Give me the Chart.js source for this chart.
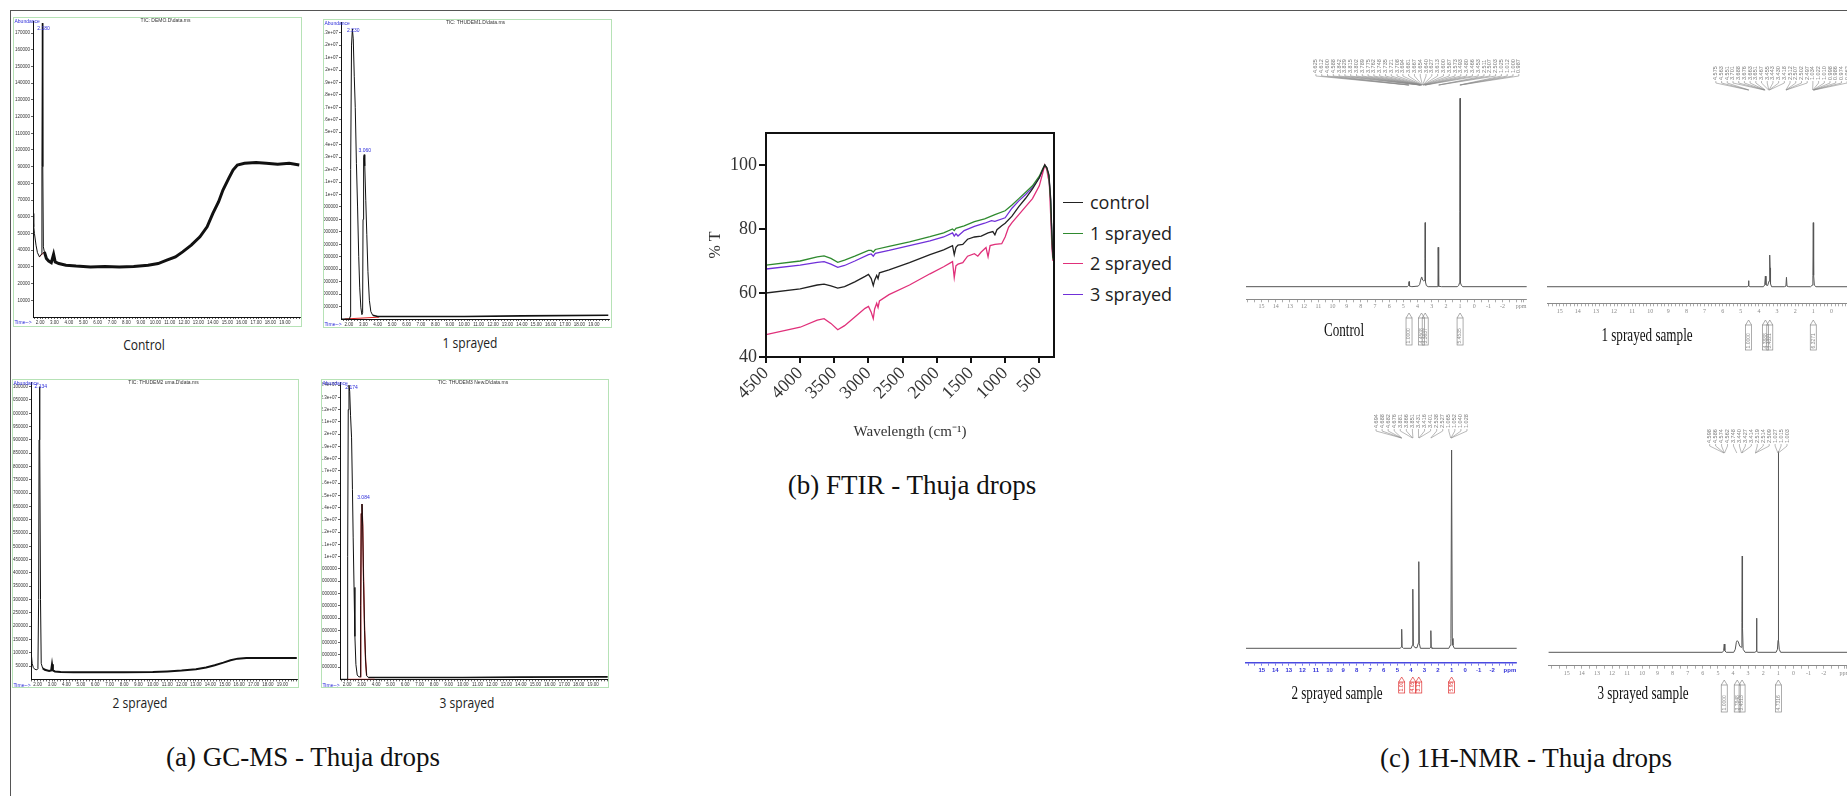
<!DOCTYPE html>
<html><head><meta charset="utf-8">
<script src="https://cdn.jsdelivr.net/npm/chart.js@4.4.1/dist/chart.umd.min.js"></script>
<style>
html,body{margin:0;padding:0;background:#fff;}
body{width:1847px;height:796px;overflow:hidden;position:relative;}
.frame{position:absolute;left:10px;top:10px;width:1900px;height:900px;border-top:1.5px solid #555;border-left:1.5px solid #555;box-sizing:border-box}
.lbl{position:absolute;white-space:nowrap;transform:translate(-50%,-50%);line-height:1}
.ser{font-family:"Liberation Serif","Times New Roman",serif;color:#111}
.sans{font-family:"Open Sans","Noto Sans",sans-serif;color:#222}
.leg{position:absolute;height:20px;display:flex;align-items:center;font-family:"Open Sans","Noto Sans",sans-serif;font-size:18px;color:#222;white-space:nowrap}
.leg i{display:inline-block;width:20px;height:0;border-top:1.5px solid;margin-right:7px}
</style></head><body>
<div class="frame"></div>
<script>
// ================= GC-MS data =================
const gcTimeTicks = [2,3,4,5,6,7,8,9,10,11,12,13,14,15,16,17,18,19];

const gcControlTime  = [1.51,1.56,1.61,1.72,1.82,1.96,2.08,2.13,2.16,2.19,2.23,2.30,2.44,2.60,2.78,2.94,3.05,3.30,3.80,4.50,5.50,6.50,7.50,8.50,9.50,10.2,10.8,11.4,11.9,12.5,13.1,13.6,14.0,14.4,14.7,15.1,15.4,15.7,16.2,17.0,17.7,18.5,19.3,20.0];
const gcControlAbund = [62000,54000,50000,43000,38500,36000,37500,90000,176000,90000,42000,39000,35000,33500,32500,37500,33000,32000,31000,30500,30000,30200,30000,30300,31000,32000,34000,36000,39000,43000,48000,54000,62000,69000,76000,83000,88000,91000,92000,92500,92000,91500,92000,91000];
const gcControlRedTime  = [1.95,2.30];
const gcControlRedAbund = [36000,39000];
const gcControlYTicks = [10000,20000,30000,40000,50000,60000,70000,80000,90000,100000,110000,120000,130000,140000,150000,160000,170000];

const gc1Time  = [1.45,2.05,2.08,2.12,2.18,2.24,2.30,2.37,2.44,2.52,2.60,2.68,2.75,2.83,2.90,2.95,2.98,3.02,3.06,3.10,3.17,3.24,3.32,3.42,3.52,3.65,4.0,6.0,10.0,14.0,20.0];
const gc1Abund = [0,0,200000,12e6,22e6,23.3e6,22.5e6,19.5e6,17e6,12.5e6,9e6,5e6,2.5e6,0.9e6,0.35e6,0.5e6,8e6,13e6,13.2e6,12.3e6,9.5e6,6.8e6,3.8e6,1.5e6,0.6e6,0.3e6,0.2e6,0.2e6,0.2e6,0.25e6,0.3e6];
const gc1RedTime  = [1.70,4.10];
const gc1RedAbund = [0,150000];
const gc1YTicks = [1e6,2e6,3e6,4e6,5e6,6e6,7e6,8e6,9e6,10e6,11e6,12e6,13e6,14e6,15e6,16e6,17e6,18e6,19e6,20e6,21e6,22e6,23e6];

const gc2Time  = [1.54,1.57,1.62,1.70,1.80,1.95,2.02,2.07,2.10,2.13,2.16,2.20,2.25,2.35,2.50,2.80,2.94,3.00,3.06,3.20,3.60,4.50,6.00,8.00,10.0,11.0,12.0,13.0,13.7,14.3,14.9,15.4,15.9,16.5,17.5,18.5,20.0];
const gc2Abund = [122000,90000,60000,45000,38000,36000,40000,300000,900000,1100000,900000,300000,60000,42000,36000,32000,34000,57000,34000,30000,28000,27000,26500,27000,28000,30000,33000,38000,45000,53000,63000,72000,78000,80000,80500,80000,80000];
const gc2YTicks = [50000,100000,150000,200000,250000,300000,350000,400000,450000,500000,550000,600000,650000,700000,750000,800000,850000,900000,950000,1000000,1050000,1100000];

const gc3Time  = [1.50,2.00,2.03,2.07,2.12,2.17,2.23,2.30,2.36,2.41,2.47,2.53,2.60,2.69,2.80,2.90,2.93,2.97,3.02,3.07,3.13,3.20,3.27,3.34,3.45,4.0,6.0,10.0,14.0,20.0];
const gc3Abund = [0,0,10e6,22e6,24e6,23.5e6,21.5e6,19.7e6,15.5e6,11.6e6,7.5e6,3.5e6,1.2e6,0.35e6,0.2e6,0.2e6,6e6,13.5e6,14.3e6,12.5e6,8e6,4e6,1.5e6,0.3e6,0.15e6,0.15e6,0.15e6,0.15e6,0.18e6,0.2e6];
const gc3RedPeakTime  = [2.90,2.93,2.97,3.02,3.07,3.13,3.20,3.27,3.34];
const gc3RedPeakAbund = [0.2e6,6e6,13.5e6,14.3e6,12.5e6,8e6,4e6,1.5e6,0.3e6];
const gc3RedTime  = [2.00,3.90];
const gc3RedAbund = [0,0];
const gc3YTicks = [1e6,2e6,3e6,4e6,5e6,6e6,7e6,8e6,9e6,10e6,11e6,12e6,13e6,14e6,15e6,16e6,17e6,18e6,19e6,20e6,21e6,22e6,23e6,24e6];

// ================= FTIR data =================
const ftirNames  = ['control','1 sprayed','2 sprayed','3 sprayed'];
const ftirXTicks = [4500,4000,3500,3000,2500,2000,1500,1000,500];
const ftirYTicks = [40,60,80,100];
const ftirControlWn = [4500,4000,3750,3650,3550,3450,3350,3200,3050,3000,2960,2930,2910,2880,2860,2840,2700,2400,2100,1900,1770,1745,1720,1690,1620,1550,1450,1350,1250,1180,1150,1120,1050,1000,900,800,700,600,500,450,420,390,360,335,315,300];
const ftirControlT  = [60.0,61.3,62.5,62.8,62.2,61.5,62.0,63.5,65.2,65.8,64.5,62.3,64.0,65.5,64.5,66.3,67.2,69.5,72.0,73.5,74.8,72.0,74.3,75.0,75.2,76.8,77.5,77.8,78.8,79.2,78.2,79.8,81.0,81.8,84.0,87.0,89.6,92.5,96.0,98.5,100.0,99.2,97.0,90.0,78.0,71.0];
const ftir1Wn = [4500,4000,3750,3650,3550,3450,3350,3200,3000,2960,2930,2900,2700,2400,2100,1900,1770,1745,1720,1600,1450,1300,1150,1000,900,800,700,600,500,450,420,390,360,335,315,300];
const ftir1T  = [68.7,70.0,71.3,71.6,70.8,69.6,70.3,71.5,73.3,73.3,72.8,73.6,74.6,76.0,77.6,78.8,80.0,79.5,80.2,81.0,82.3,83.2,84.5,85.7,87.5,89.5,91.5,93.5,96.5,98.8,100,99,96.5,89,77,70.5];
const ftir2Wn = [4500,4000,3750,3650,3550,3450,3350,3200,3050,3000,2960,2930,2910,2880,2860,2840,2700,2400,2100,1900,1770,1745,1720,1690,1620,1550,1450,1400,1350,1280,1250,1220,1150,1050,1000,950,900,800,700,600,500,450,420,390,370,355,335,315,300];
const ftir2T  = [47.0,49.3,51.5,52.0,50.5,48.5,49.8,52.5,55.2,55.8,54.0,52.0,55.0,56.8,55.5,57.5,59.5,62.5,66.0,68.2,69.8,64.8,68.5,69.0,69.5,71.5,72.3,71.5,72.8,74.2,71.3,74.8,75.2,75.4,77.5,80.5,82.0,84.5,87.0,89.5,93.5,97.5,100,98.5,96,95,85,74,70];
const ftir3Wn = [4500,4000,3750,3650,3550,3450,3350,3200,3000,2960,2930,2900,2700,2400,2100,1900,1770,1745,1720,1690,1600,1450,1300,1200,1150,1000,900,800,700,600,500,450,420,390,360,335,315,300];
const ftir3T  = [67.5,68.7,69.6,69.8,69.0,68.0,68.6,70.0,72.0,72.2,71.5,72.4,73.3,74.8,76.3,77.5,78.8,77.8,78.5,77.8,79.5,80.8,81.8,82.6,82.4,83.5,86.5,88.8,90.8,93.0,96.0,98.6,100,99,96.5,89,77,70.5];

// ================= 1H-NMR data =================
const nmrTickValues = [15,14,13,12,11,10,9,8,7,6,5,4,3,2,1,0,-1,-2];
const nmrControlPpm = [16.1,4.72,4.65,4.62,4.60,4.58,4.55,4.40,3.95,3.85,3.78,3.72,3.69,3.64,3.56,3.50,3.475,3.462,3.45,3.43,3.38,3.25,2.62,2.56,2.545,2.53,2.49,2.30,1.20,1.10,1.04,1.015,1.00,0.985,0.96,0.90,0.80,-3.7];
const nmrControlInt = [0,0,0.6,2.0,2.7,1.5,0.3,0,0.3,1.2,3.5,5.0,4.8,3.5,3.0,3.5,15,34,12,2.5,0.6,0,0,0.8,20.9,1.2,0.2,0,0,0.6,2.0,40,100,38,2.0,0.6,0,0];
const nmrControlLabels = [4.625,4.612,4.600,4.588,3.842,3.829,3.815,3.802,3.789,3.775,3.762,3.748,3.735,3.721,3.708,3.694,3.681,3.667,3.654,3.640,3.627,3.613,3.600,3.587,3.573,3.493,3.480,3.466,3.453,2.511,2.507,2.503,1.025,1.012,1.000,0.987];
const nmrControlIntPos = [4.60,3.72,3.46,1.00];
const nmrControlIntVal = ['1.0000','4.4508','3.3637','5.4535'];

const nmr1Ppm = [15.7,4.65,4.60,4.575,4.55,4.50,3.75,3.68,3.645,3.61,3.52,3.44,3.41,3.40,3.385,3.36,3.30,2.60,2.51,2.48,2.45,2.35,1.15,1.06,1.02,1.00,0.98,0.94,0.85,-3.7];
const nmr1Int = [0,0,0.4,3.2,0.4,0,0,1.0,5.6,1.0,0.6,3,12,16.8,10,1.5,0,0,0.3,5.0,0.3,0,0,0.8,6,34,6,0.8,0,0];
const nmr1Labels = [4.575,4.563,4.551,3.701,3.688,3.676,3.663,3.651,3.467,3.455,3.443,3.430,3.418,2.512,2.507,2.502,2.497,1.034,1.022,1.010,0.998,0.986,0.974,0.962];
const nmr1IntPos = [4.57,3.64,3.40,1.00];
const nmr1IntVal = ['1.0000','4.3888','3.4321','6.3271'];

const nmr2Ppm = [16.16,4.80,4.71,4.68,4.65,4.55,3.98,3.90,3.86,3.82,3.70,3.55,3.46,3.42,3.38,3.30,2.60,2.56,2.53,2.50,2.45,1.20,1.10,1.05,1.00,0.95,0.90,0.80,-3.8];
const nmr2Int = [0,0,0.6,9.6,0.6,0,0,1.5,29.8,1.5,0.3,0.3,2.5,43.7,2.5,0,0,0.4,8.9,0.4,0,0,1.5,5,100,5,1.5,0,0];
const nmr2Labels = [4.694,4.688,4.682,4.676,3.881,3.866,3.851,3.431,3.416,3.401,2.538,2.527,1.065,1.052,1.040,1.028];
const nmr2IntPos = [4.68,3.86,3.42,1.00];
const nmr2IntVal = ['1.00','4.05','3.12','5.95'];

const nmr3Ppm = [16.2,4.70,4.62,4.58,4.54,4.45,3.95,3.85,3.78,3.72,3.65,3.55,3.45,3.41,3.39,3.37,3.33,3.20,2.55,2.46,2.44,2.42,2.35,1.15,1.06,1.02,1.00,0.98,0.94,0.85,-3.8];
const nmr3Int = [0,0,0.8,4.1,0.8,0,0,1.5,5,5.8,5.2,3,2.5,15,48,12,1.5,0,0,0.5,17,0.5,0,0,1.5,6,100,6,1.5,0,0];
const nmr3Labels = [4.598,4.586,4.574,4.562,3.748,3.440,3.427,3.414,2.519,2.514,2.509,1.027,1.015,1.003];
const nmr3IntPos = [4.58,3.72,3.40,1.00];
const nmr3IntVal = ['1.0000','3.7848','3.4513','4.7316'];

// ================= helpers =================
function zip(xs, ys){ return xs.map((x,i)=>({x:x, y:ys[i]})); }
function holder(L,T,W,H){
  const d=document.createElement('div');
  d.style.cssText='position:absolute;left:'+L+'px;top:'+T+'px;width:'+W+'px;height:'+H+'px;';
  const c=document.createElement('canvas'); d.appendChild(c); document.body.appendChild(d); return c;
}
function txt(s,x,y,cls,size,sx){
  const e=document.createElement('div'); e.className='lbl '+cls;
  e.style.left=x+'px'; e.style.top=y+'px'; e.style.fontSize=size+'px';
  if(sx) e.style.transform='translate(-50%,-50%) scaleX('+sx+')';
  e.textContent=s; document.body.appendChild(e);
}
const plainFmt = v => String(v);
const expFmt = v => v >= 1e7 ? (Math.round(v/1e6)/10) + 'e+07' : String(v);

function makeGcDecor(g){
  return {id:'gcDecor', afterDraw(chart){
    const ctx=chart.ctx, xs=chart.scales.x, ys=chart.scales.y, a=chart.chartArea;
    ctx.save();
    ctx.strokeStyle='#b6e2b6'; ctx.lineWidth=1; ctx.strokeRect(0.5,0.5,chart.width-1,chart.height-1);
    ctx.font='5px "Liberation Sans"'; ctx.textBaseline='middle'; ctx.textAlign='left';
    ctx.fillStyle='#2b2bd9'; ctx.fillText('Abundance',1.5,4.5); ctx.fillText('Time-->',1.5,a.bottom+6);
    ctx.fillStyle='#333'; ctx.textAlign='center'; ctx.fillText(g.title, chart.width/2+8, 4);
    ctx.fillStyle='#2b2bd9'; ctx.textBaseline='bottom';
    g.peaks.forEach(p=>ctx.fillText(p.t, xs.getPixelForValue(p.x), ys.getPixelForValue(p.y)));
    ctx.restore();
  }};
}
function gcChart(g){
  const c=holder(g.L,g.T,g.W,g.H);
  const pts=zip(g.time,g.ab);
  let idx=pts.findIndex(p=>p.x>=g.thickFrom); if(idx<0) idx=pts.length-1;
  const ds=[
    {data:pts.slice(0,idx+1), borderColor:'#111', borderWidth:1, pointRadius:0, tension:0},
    {data:pts.slice(idx), borderColor:'#111', borderWidth:g.thickW, pointRadius:0, tension:0}
  ];
  g.extra.forEach(e=>ds.push({data:zip(e.x,e.y), borderColor:e.color, borderWidth:e.w||1, pointRadius:0, tension:0}));
  new Chart(c,{type:'line', data:{datasets:ds},
    options:{animation:false, responsive:true, maintainAspectRatio:false, events:[],
      layout:{autoPadding:false, padding:{left:0, top:g.pT-g.T, right:(g.L+g.W)-g.pR, bottom:0}},
      plugins:{legend:{display:false}, tooltip:{enabled:false}},
      scales:{
        x:{type:'linear', min:g.xmin, max:g.xmax,
          afterBuildTicks:s=>{const t=[]; for(let i=Math.ceil(g.xmin*5);i<=Math.floor(g.xmax*5);i++) t.push({value:i/5}); s.ticks=t;},
          afterFit:s=>{s.height=(g.T+g.H)-g.pB;},
          ticks:{autoSkip:false, maxRotation:0, minRotation:0, padding:1, color:'#333', font:{size:4.5, family:'Liberation Sans'},
            callback:v=>gcTimeTicks.includes(v)? v.toFixed(2):''},
          grid:{drawOnChartArea:false, tickLength:2, color:'#222', lineWidth:0.7},
          border:{color:'#111', width:1}},
        y:{type:'linear', min:0, max:g.ymax,
          afterBuildTicks:s=>{s.ticks=g.yTicks.map(v=>({value:v}));},
          afterFit:s=>{s.width=g.pL-g.L;},
          ticks:{autoSkip:false, padding:1, color:'#333', font:{size:4.5, family:'Liberation Sans'}, callback:g.yFmt},
          grid:{drawOnChartArea:false, tickLength:2, color:'#222', lineWidth:0.7},
          border:{color:'#111', width:1}}
      }},
    plugins:[makeGcDecor(g)]});
}

function makeNmrDecor(n){
  return {id:'nmrDecor', afterDraw(chart){
    const ctx=chart.ctx, xs=chart.scales.x, ox=n.L, oy=n.T;
    ctx.save();
    ctx.font='5.5px "Liberation Sans"'; ctx.fillStyle='#7a7a7a'; ctx.strokeStyle='#8a8a8a'; ctx.lineWidth=0.6;
    const cnt=n.labels.length, step=(n.blockR-n.blockL)/cnt;
    n.labels.forEach((v,i)=>{
      const x=n.blockL-ox+step*(i+0.5);
      ctx.save(); ctx.translate(x,n.textBottom-oy); ctx.rotate(-Math.PI/2);
      ctx.textAlign='left'; ctx.textBaseline='middle'; ctx.fillText(v.toFixed(3),0,0); ctx.restore();
      ctx.beginPath(); ctx.moveTo(x,n.textBottom-oy+1); ctx.lineTo(x,n.tickEnd-oy);
      ctx.lineTo(xs.getPixelForValue(v),n.convY-oy); ctx.stroke();
    });
    ctx.strokeStyle=n.intColor; ctx.fillStyle=n.intColor; ctx.lineWidth=0.7;
    ctx.font='5px "Liberation Sans"';
    n.intPos.forEach((p,i)=>{
      const x=xs.getPixelForValue(p), t=n.intTop-oy, b=n.intBottom-oy;
      ctx.beginPath(); ctx.moveTo(x-3,t+5); ctx.lineTo(x,t); ctx.lineTo(x+3,t+5); ctx.stroke();
      ctx.strokeRect(x-3,t+5,6,b-t-5);
      ctx.save(); ctx.translate(x,b-1.5); ctx.rotate(-Math.PI/2);
      ctx.textAlign='left'; ctx.textBaseline='middle'; ctx.fillText(n.intVal[i],0,0); ctx.restore();
    });
    ctx.restore();
  }};
}
function nmrChart(n){
  const c=holder(n.L,n.T,n.W,n.H);
  new Chart(c,{type:'line',
    data:{datasets:[{data:zip(n.ppm,n.int), borderColor:'#555', borderWidth:1, pointRadius:0, tension:0, clip:false}]},
    options:{animation:false, responsive:true, maintainAspectRatio:false, events:[],
      layout:{autoPadding:false, padding:{left:n.pL-n.L, top:n.pT-n.T, right:(n.L+n.W)-n.pR, bottom:0}},
      plugins:{legend:{display:false}, tooltip:{enabled:false}},
      scales:{
        x:{type:'linear', reverse:true, min:n.xmin, max:n.xmax,
          afterBuildTicks:s=>{const t=[]; for(let i=Math.ceil(n.xmin*n.minorDiv);i<=Math.floor(n.xmax*n.minorDiv);i++) t.push({value:i/n.minorDiv});
            t.push({value:n.ppmAt}); t.sort((a,b)=>a.value-b.value); s.ticks=t;},
          afterFit:s=>{s.height=(n.T+n.H)-n.pB;},
          ticks:{autoSkip:false, maxRotation:0, minRotation:0, padding:n.tickPad, color:n.tickColor, font:n.tickFont,
            callback:v=> v===n.ppmAt ? 'ppm' : (nmrTickValues.includes(v)? String(v):'')},
          grid:{drawOnChartArea:false, tickLength:3, color:n.axisColor, lineWidth:0.7},
          border:{color:n.axisColor, width:n.axisW}},
        y:{display:false, min:n.ymin, max:n.ymax}
      }},
    plugins:[makeNmrDecor(n)]});
}

// ================= GC-MS charts =================
gcChart({L:13,T:17,W:289,H:310, pL:33,pR:300,pT:21.4,pB:317, xmin:1.51,xmax:20.05, ymax:177000,
  yTicks:gcControlYTicks, yFmt:plainFmt, time:gcControlTime, ab:gcControlAbund, thickFrom:2.28, thickW:3,
  extra:[{x:gcControlRedTime,y:gcControlRedAbund,color:'#e02020'}],
  title:'TIC: DEMO.D\\data.ms', peaks:[{x:2.24,y:171000,t:'2.180'}]});
gcChart({L:323,T:19,W:289,H:309, pL:341,pR:609,pT:22.2,pB:319, xmin:1.45,xmax:20.05, ymax:23.8e6,
  yTicks:gc1YTicks, yFmt:expFmt, time:gc1Time, ab:gc1Abund, thickFrom:3.6, thickW:1.6,
  extra:[{x:gc1RedTime,y:gc1RedAbund,color:'#e02020'}],
  title:'TIC: THUDEM1.D\\data.ms', peaks:[{x:2.3,y:23.0e6,t:'2.230'},{x:3.1,y:13.3e6,t:'3.060'}]});
gcChart({L:12,T:379,W:287,H:309, pL:31,pR:297.5,pT:380.6,pB:679.4, xmin:1.54,xmax:20.05, ymax:1.115e6,
  yTicks:gc2YTicks, yFmt:plainFmt, time:gc2Time, ab:gc2Abund, thickFrom:2.3, thickW:2,
  extra:[],
  title:'TIC: THUDEM2 uma.D\\data.ms', peaks:[{x:2.22,y:1.09e6,t:'2.134'}]});
gcChart({L:321,T:379,W:288,H:309, pL:340,pR:608.4,pT:381.9,pB:679.3, xmin:1.5,xmax:20.05, ymax:24.2e6,
  yTicks:gc3YTicks, yFmt:expFmt, time:gc3Time, ab:gc3Abund, thickFrom:3.4, thickW:1.6,
  extra:[{x:gc3RedPeakTime,y:gc3RedPeakAbund,color:'#d42020',w:1.3},{x:gc3RedTime,y:gc3RedAbund,color:'#e02020'}],
  title:'TIC: THUDEM3 New.D\\data.ms', peaks:[{x:2.3,y:23.6e6,t:'2.174'},{x:3.12,y:14.6e6,t:'3.084'}]});

txt('Control',144,345,'sans',14,0.86);
txt('1 sprayed',470,343,'sans',14,0.86);
txt('2 sprayed',140,703,'sans',14,0.86);
txt('3 sprayed',467,703,'sans',14,0.86);
txt('(a) GC-MS - Thuja drops',303,757,'ser',27);

// ================= FTIR chart =================
const frame={id:'frame', afterDraw(chart){const a=chart.chartArea, ctx=chart.ctx; ctx.save(); ctx.strokeStyle='#111'; ctx.lineWidth=2; ctx.strokeRect(a.left,a.top,a.right-a.left,a.bottom-a.top); ctx.restore();}};
const ftirColors=['#222222','#2f8a2f','#e0307a','#7030d8'];
const ftirData=[zip(ftirControlWn,ftirControlT),zip(ftir1Wn,ftir1T),zip(ftir2Wn,ftir2T),zip(ftir3Wn,ftir3T)];
const fc=holder(702,120,358,324);
new Chart(fc,{type:'line',
  data:{datasets:ftirNames.map((nm,i)=>({label:nm, data:ftirData[i], borderColor:ftirColors[i], borderWidth:1.3, pointRadius:0, tension:0}))},
  options:{animation:false, responsive:true, maintainAspectRatio:false, events:[],
    layout:{autoPadding:false, padding:{left:0,top:13,right:6,bottom:0}},
    plugins:{legend:{display:false}, tooltip:{enabled:false}},
    scales:{
      x:{type:'linear', reverse:true, min:285, max:4500,
        afterBuildTicks:s=>{s.ticks=ftirXTicks.map(v=>({value:v}));},
        afterFit:s=>{s.height=87;},
        ticks:{autoSkip:false, maxRotation:45, minRotation:45, padding:0, color:'#333', font:{family:'Liberation Serif', size:18}, callback:v=>String(v)},
        grid:{drawOnChartArea:false, tickLength:6, color:'#111', lineWidth:2},
        border:{color:'#111', width:2},
        title:{display:true, text:'Wavelength (cm⁻¹)', color:'#333', font:{family:'Liberation Serif', size:15}, padding:{top:0,bottom:3}}},
      y:{min:40, max:110,
        afterBuildTicks:s=>{s.ticks=ftirYTicks.map(v=>({value:v}));},
        afterFit:s=>{s.width=64;},
        ticks:{padding:2, color:'#333', font:{family:'Liberation Serif', size:18}, callback:v=>String(v)},
        grid:{drawOnChartArea:false, tickLength:7, color:'#111', lineWidth:2},
        border:{color:'#111', width:2},
        title:{display:true, text:'% T', color:'#333', font:{family:'Liberation Serif', size:16}, padding:{top:4,bottom:4}}}
    }},
  plugins:[frame]});
const legY=[202,233,263,294];
ftirNames.forEach((nm,i)=>{
  const d=document.createElement('div'); d.className='leg';
  d.style.left='1063px'; d.style.top=(legY[i]-10)+'px';
  const l=document.createElement('i'); l.style.borderTopColor=ftirColors[i]; d.appendChild(l);
  d.appendChild(document.createTextNode(nm)); document.body.appendChild(d);
});
txt('(b) FTIR - Thuja drops',912,485,'ser',27);

// ================= NMR charts =================
const grayTick={color:'#8a8a8a', font:{size:6, family:'Liberation Serif'}};
nmrChart({L:1236,T:45,W:300,H:310, pL:1246,pR:1526.7,pT:98.3,pB:299.3, xmin:-3.7,xmax:16.1, ymin:-6.7,ymax:100,
  ppm:nmrControlPpm, int:nmrControlInt, minorDiv:2, ppmAt:-3.3, tickPad:1, tickColor:grayTick.color, tickFont:grayTick.font,
  axisColor:'#8a8a8a', axisW:1, labels:nmrControlLabels, blockL:1313, blockR:1521.7, textBottom:73, tickEnd:76, convY:85,
  intPos:nmrControlIntPos, intVal:nmrControlIntVal, intTop:313, intBottom:345, intColor:'#8a8a8a'});
nmrChart({L:1538,T:45,W:370,H:310, pL:1547,pR:1898.4,pT:98.3,pB:303.3, xmin:-3.7,xmax:15.7, ymin:-8.8,ymax:100,
  ppm:nmr1Ppm, int:nmr1Int, minorDiv:5, ppmAt:-3.3, tickPad:2, tickColor:grayTick.color, tickFont:grayTick.font,
  axisColor:'#8a8a8a', axisW:1, labels:nmr1Labels, blockL:1713, blockR:1850, textBottom:80, tickEnd:83, convY:90,
  intPos:nmr1IntPos, intVal:nmr1IntVal, intTop:320, intBottom:350, intColor:'#8a8a8a'});
nmrChart({L:1236,T:400,W:290,H:310, pL:1246,pR:1516.7,pT:450,pB:662.7, xmin:-3.8,xmax:16.16, ymin:-7.26,ymax:100,
  ppm:nmr2Ppm, int:nmr2Int, minorDiv:2, ppmAt:-3.3, tickPad:1, tickColor:'#3535d8', tickFont:{size:6, family:'Liberation Sans', weight:'bold'},
  axisColor:'#4a4ae0', axisW:1.5, labels:nmr2Labels, blockL:1373, blockR:1470, textBottom:428, tickEnd:431, convY:438,
  intPos:nmr2IntPos, intVal:nmr2IntVal, intTop:677, intBottom:693, intColor:'#e03030'});
nmrChart({L:1540,T:400,W:320,H:320, pL:1548.6,pR:1850.9,pT:451.7,pB:665.7, xmin:-3.8,xmax:16.2, ymin:-6.68,ymax:100,
  ppm:nmr3Ppm, int:nmr3Int, minorDiv:2, ppmAt:-3.4, tickPad:1, tickColor:grayTick.color, tickFont:grayTick.font,
  axisColor:'#8a8a8a', axisW:1, labels:nmr3Labels, blockL:1706.7, blockR:1790, textBottom:443, tickEnd:446, convY:453,
  intPos:nmr3IntPos, intVal:nmr3IntVal, intTop:680, intBottom:712, intColor:'#8a8a8a'});

txt('Control',1344,330,'ser',18,0.73);
txt('1 sprayed sample',1647,335,'ser',18,0.73);
txt('2 sprayed sample',1337,693,'ser',18,0.73);
txt('3 sprayed sample',1643,693,'ser',18,0.73);
txt('(c) 1H-NMR - Thuja drops',1526,758,'ser',27);
</script></body></html>
